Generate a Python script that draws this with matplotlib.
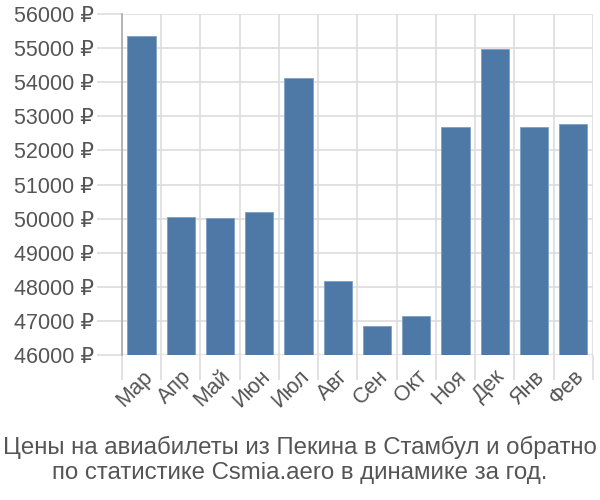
import matplotlib
matplotlib.use('Agg')
import matplotlib.pyplot as plt
import numpy as np

plt.rcParams['font.family'] = ['Liberation Sans', 'DejaVu Sans']

months = ['Мар', 'Апр', 'Май', 'Июн', 'Июл', 'Авг', 'Сен', 'Окт', 'Ноя', 'Дек', 'Янв', 'Фев']
prices = [55360, 50060, 50020, 50185, 54135, 48160, 46860, 47135, 52680, 54975, 52680, 52775]
yticks = list(range(46000, 56001, 1000))
title = 'Цены на авиабилеты из Пекина в Стамбул и обратно\nпо статистике Csmia.aero в динамике за год.'

text_color = '#555555'
grid_color = '#dddddd'

fig = plt.figure(figsize=(6, 5), dpi=100)
ax = fig.add_axes([0.2033, 0.29, 0.785, 0.682])

x = np.arange(len(months))
ax.bar(x, prices, width=0.72, color='#4e79a7', edgecolor='#7f9fc4', linewidth=0.6,
       bottom=0, zorder=3)
ax.set_xlim(-0.5, len(months) - 0.5)
ax.set_ylim(46000, 56000)

ax.set_yticks(yticks)
ax.set_yticklabels(['%d ₽' % v for v in yticks], fontsize=15.5, color=text_color)
ax.set_xticks(x)
ax.set_xticklabels(months, fontsize=15.5, color=text_color, rotation=45,
                   ha='right', va='top', rotation_mode='anchor')
ax.set_xticks(np.arange(-0.5, len(months)), minor=True)

ax.tick_params(axis='x', which='major', length=0, pad=8)
ax.tick_params(axis='x', which='minor', length=18, color=grid_color, width=1.2)
ax.tick_params(axis='y', length=18, color=grid_color, width=1.2, pad=2)

ax.grid(True, which='minor', axis='x', color=grid_color, linewidth=1.2, zorder=0)
ax.grid(True, which='major', axis='y', color=grid_color, linewidth=1.2, zorder=0)

for s in ['top', 'right', 'bottom']:
    ax.spines[s].set_visible(False)
ax.spines['left'].set_color('#aaaaaa')
ax.spines['left'].set_linewidth(1.2)
ax.spines['left'].set_bounds(46000, 56000)

fig.text(0.5, 0.08, title, ha='center', va='center', fontsize=17.3, color=text_color,
         linespacing=1.2)

fig.savefig('out.png', dpi=100)
